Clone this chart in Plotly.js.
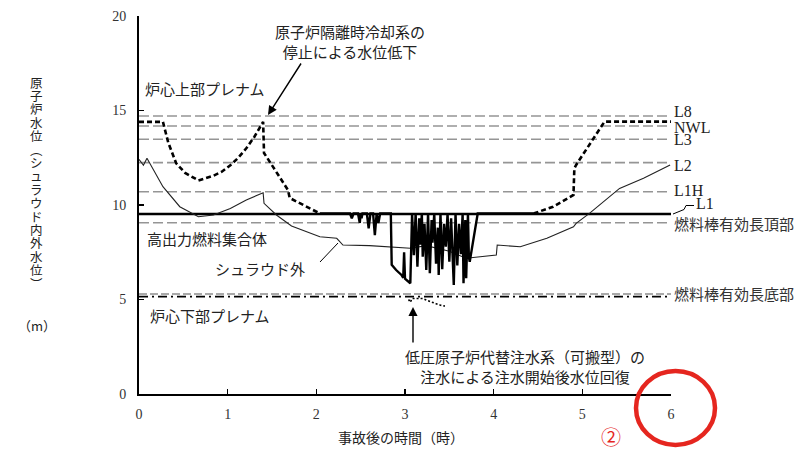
<!DOCTYPE html>
<html><head><meta charset="utf-8">
<script src="https://cdn.plot.ly/plotly-3.0.1.min.js"></script>
<style>html,body{margin:0;padding:0;background:#fff;}#chart{width:811px;height:450px;}</style>
</head><body><div id="chart"></div>
<script>
// ---- reference levels (m) ----
const levelNames = ['L8', 'NWL', 'L3', 'L2', 'L1H'];
const levelValues = [14.71, 14.18, 13.48, 12.24, 10.70];
const l1Name = 'L1';
const l1Value = 9.52;
const fuelTopName = '燃料棒有効長頂部';
const fuelTopValue = 9.06;
const fuelBottomName = '燃料棒有効長底部';
const fuelBottomValue = 5.29;
const lowerPlenumLineValue = 5.15;
const levelSpan = [0, 6];

// ---- shroud outside water level (thin solid) ----
const outsideTime  = [0, 0.05, 0.09, 0.27, 0.46, 0.67, 0.84, 1.03, 1.21, 1.40, 1.41, 1.55, 1.72, 2.04, 2.23, 2.30, 2.60, 3.06, 3.24, 3.50, 3.69, 4.03, 4.04, 4.30, 4.60, 4.90, 4.93, 5.08, 5.42, 5.69, 5.99];
const outsideLevel = [12.41, 12.10, 12.47, 10.97, 9.91, 9.38, 9.47, 9.82, 10.26, 10.65, 10.09, 9.47, 8.89, 8.32, 8.24, 7.88, 7.85, 7.71, 7.85, 7.55, 7.18, 7.35, 7.88, 7.79, 8.24, 8.85, 9.03, 9.56, 10.88, 11.41, 12.12];

// ---- shroud inside water level, part 1 (thick dashed) ----
const insideTimeA  = [0, 0.27, 0.33, 0.42, 0.52, 0.67, 0.84, 0.93, 1.03, 1.12, 1.21, 1.30, 1.40, 1.41, 1.51, 1.68, 1.70, 2.04];
const insideLevelA = [14.40, 14.40, 13.30, 12.20, 11.70, 11.30, 11.55, 11.75, 12.10, 12.50, 13.00, 13.60, 14.40, 12.75, 12.03, 10.79, 10.37, 9.55];

// ---- shroud inside water level, part 2 (thick solid, oscillating during injection) ----
const insideTimeB  = [2.04, 2.38, 2.40, 2.42, 2.47, 2.49, 2.50, 2.51, 2.52, 2.57, 2.59, 2.61, 2.64, 2.66, 2.68, 2.70, 2.72, 2.84, 2.85, 2.90, 2.96, 2.98, 2.99, 3.00, 3.06, 3.08,
                      3.10, 3.12, 3.14, 3.16, 3.17, 3.19, 3.20, 3.22, 3.24, 3.26, 3.28, 3.30, 3.31, 3.33, 3.35, 3.37, 3.38, 3.40, 3.42, 3.44, 3.46, 3.48, 3.50, 3.52, 3.55, 3.57, 3.59, 3.61, 3.63, 3.65, 3.66, 3.68, 3.69, 3.71, 3.72, 3.73, 3.82, 4.45];
const insideLevelB = [9.55, 9.55, 9.30, 9.55, 9.55, 9.05, 9.55, 9.30, 9.55, 9.55, 8.77, 9.55, 9.55, 8.41, 9.55, 9.05, 9.55, 9.55, 6.83, 6.56, 6.30, 6.15, 7.50, 6.10, 5.86, 9.55,
                      7.35, 9.55, 6.74, 9.30, 7.90, 9.55, 7.26, 9.00, 6.56, 9.55, 6.39, 9.20, 8.00, 9.55, 6.90, 8.80, 6.30, 9.55, 6.60, 9.00, 7.80, 9.55, 7.00, 9.30, 5.77, 9.55, 6.80, 9.00, 7.40, 9.55, 5.86, 9.20, 6.12, 9.55, 7.26, 7.00, 9.55, 9.55];

// ---- shroud inside water level, part 3 (thick dashed, recovery) ----
const insideTimeC  = [4.45, 4.67, 4.90, 4.91, 4.93, 5.25, 6.00];
const insideLevelC = [9.55, 9.91, 10.53, 11.94, 12.12, 14.41, 14.41];

// ---- small traces near the bottom of the fuel ----
const lowerTime  = [3.04, 3.06, 3.08, 3.20, 3.25, 3.30, 3.35, 3.40, 3.45];
const lowerLevel = [5.00, 4.85, 5.05, 5.05, 4.95, 4.85, 4.78, 4.70, 4.65];

// ---- texts ----
const xTitle = '事故後の時間（時）';
const yTitleChars = '原子炉水位︵シュラウド内外水位︶';
const yUnit = '（m）';

// pixel -> paper helpers for placing texts and shapes
const X0 = 139, Y0 = 394;
const PX = p => (p - X0) / 532, PY = p => (Y0 - p) / 378;
const px = p => (p - X0) / (532 / 6), py = p => (Y0 - p) / (378 / 20);

const serif = 'Liberation Serif, DejaVu Serif, serif';
const jp = 'Noto Sans CJK JP, sans-serif';
const grayDash = {color: '#959595', width: 1.6, dash: '10px,4px'};

const traces = [];
levelValues.forEach(v => traces.push({x: levelSpan, y: [v, v], mode: 'lines', line: grayDash, hoverinfo: 'skip'}));
traces.push({x: levelSpan, y: [fuelTopValue, fuelTopValue], mode: 'lines', line: grayDash, hoverinfo: 'skip'});
traces.push({x: levelSpan, y: [fuelBottomValue, fuelBottomValue], mode: 'lines', line: {color: '#555', width: 1.2, dash: '8px,3px'}, hoverinfo: 'skip'});
traces.push({x: levelSpan, y: [lowerPlenumLineValue, lowerPlenumLineValue], mode: 'lines', line: {color: '#000', width: 1.6, dash: '9px,4px,2px,4px'}, hoverinfo: 'skip'});
traces.push({x: levelSpan, y: [l1Value, l1Value], mode: 'lines', line: {color: '#000', width: 2.6}, hoverinfo: 'skip'});
traces.push({x: outsideTime, y: outsideLevel, mode: 'lines', line: {color: '#222', width: 1.1}});
traces.push({x: insideTimeA, y: insideLevelA, mode: 'lines', line: {color: '#000', width: 2.6, dash: '5px,3px'}});
traces.push({x: insideTimeB, y: insideLevelB, mode: 'lines', line: {color: '#000', width: 2.4}});
traces.push({x: insideTimeC, y: insideLevelC, mode: 'lines', line: {color: '#000', width: 2.6, dash: '5px,3px'}});
traces.push({x: lowerTime, y: lowerLevel, mode: 'lines', line: {color: '#000', width: 1.6, dash: '2px,2px'}});

const ann = [];
function label(text, xPix, yPix, opts) {
  ann.push(Object.assign({text: text, x: PX(xPix), y: PY(yPix), xref: 'paper', yref: 'paper', showarrow: false,
    xanchor: 'left', yanchor: 'middle', font: {family: jp, size: 15, color: '#222'}}, opts || {}));
}
// right side labels
const rightLabelY = [111.7, 127.3, 139.3, 165, 190];
levelNames.forEach((n, i) => label(n, 672, rightLabelY[i], {font: {family: serif, size: 16, color: '#222'}}));
label(l1Name, 694, 203.3, {font: {family: serif, size: 16, color: '#222'}});
label(fuelTopName, 672, 223.3, {font: {family: jp, size: 15, color: '#333'}});
label(fuelBottomName, 672, 293.3, {font: {family: jp, size: 15, color: '#333'}});
// inner labels
label('炉心上部プレナム', 143, 88);
label('原子炉隔離時冷却系の<br>停止による水位低下', 273, 41.7);
label('高出力燃料集合体', 145, 238);
label('シュラウド外', 213, 268);
label('炉心下部プレナム', 148, 315);
label('低圧原子炉代替注水系（可搬型）の<br>注水による注水開始後水位回復', 403, 366);
// axis titles (vertical y title: one upright character per line)
label(xTitle, 401, 437, {xanchor: 'center', font: {family: jp, size: 14, color: '#222'}});
Array.from(yTitleChars).forEach((c, i) => label(c, 36, 82 + i * 13.4, {xanchor: 'center', borderpad: 0, font: {family: jp, size: 12.5, color: '#222'}}));
label(yUnit, 37, 325, {xanchor: 'center', font: {family: jp, size: 13, color: '#222'}});
label('②', 611, 436, {xanchor: 'center', font: {family: jp, size: 20, color: '#e5261f'}});
// arrows
ann.push({x: px(268), y: py(115), xref: 'x', yref: 'y', ax: 34, ay: -53, text: '', showarrow: true,
  arrowhead: 2, arrowsize: 1.3, arrowwidth: 1.4, arrowcolor: '#000'});
ann.push({x: px(413), y: py(307), xref: 'x', yref: 'y', ax: 0, ay: 37, text: '', showarrow: true,
  arrowhead: 2, arrowsize: 1.3, arrowwidth: 1.4, arrowcolor: '#000'});

const shapes = [
  {type: 'path', xref: 'paper', yref: 'paper', line: {color: '#000', width: 1},
   path: `M ${PX(673)} ${PY(214)} L ${PX(684)} ${PY(209.5)} L ${PX(686)} ${PY(205.5)} L ${PX(694)} ${PY(205.5)}`},
  {type: 'line', xref: 'paper', yref: 'paper', line: {color: '#000', width: 1},
   x0: PX(320), y0: PY(262), x1: PX(338), y1: PY(243)},
  {type: 'circle', xref: 'paper', yref: 'paper', line: {color: '#e5261f', width: 4.5},
   x0: PX(636), x1: PX(715), y0: PY(445), y1: PY(371)}
];

const axisCommon = {showgrid: false, zeroline: false, showline: true, linecolor: '#000', linewidth: 2,
  ticks: 'inside', ticklen: 5, tickwidth: 1.5, tickcolor: '#000',
  tickfont: {family: serif, size: 14, color: '#333'}, fixedrange: true};

const layout = {
  width: 811, height: 450, margin: {l: 139, r: 140, t: 16, b: 56},
  paper_bgcolor: '#fff', plot_bgcolor: '#fff', showlegend: false,
  xaxis: Object.assign({}, axisCommon, {range: [0, 6], dtick: 1, tick0: 0, ticklabelstandoff: 6}),
  yaxis: Object.assign({}, axisCommon, {range: [0, 20], dtick: 5, tick0: 0, ticklabelstandoff: 8}),
  annotations: ann, shapes: shapes
};
Plotly.newPlot('chart', traces, layout, {staticPlot: true});
</script></body></html>
